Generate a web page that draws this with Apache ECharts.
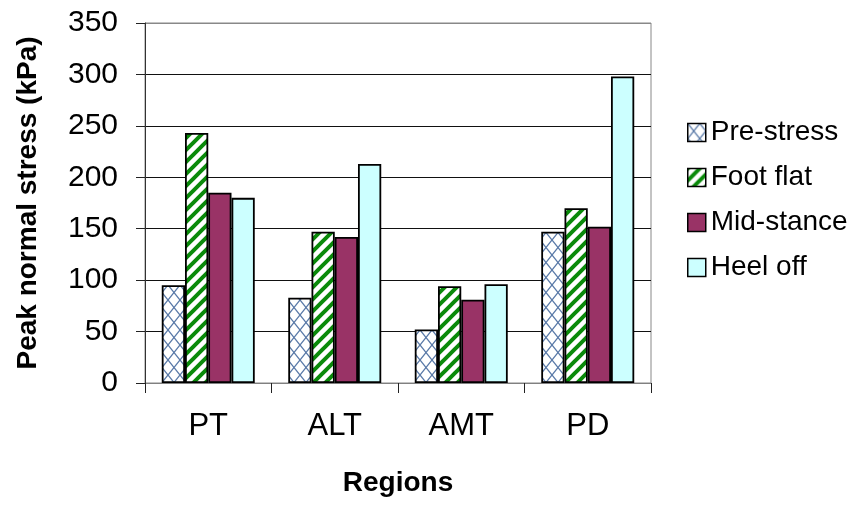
<!DOCTYPE html>
<html>
<head>
<meta charset="utf-8">
<script src="https://cdn.jsdelivr.net/npm/echarts@6/dist/echarts.min.js"></script>
<style>html,body{margin:0;padding:0;background:#fff}#c{width:858px;height:509px}</style>
</head>
<body>
<div id="c"></div>
<script>
const categories = ['PT', 'ALT', 'AMT', 'PD'];
const seriesNames = ['Pre-stress', 'Foot flat', 'Mid-stance', 'Heel off'];
const preStress = [95, 83, 52, 147];
const footFlat = [243, 147, 94, 170];
const midStance = [185, 142, 81, 152];
const heelOff = [180, 213, 96, 298];
const yTicks = { min: 0, max: 350, interval: 50 };

const FONT = '"Liberation Sans", Arial, sans-serif';

function crossPattern() {
  const c = document.createElement('canvas');
  c.width = 12; c.height = 15;
  const g = c.getContext('2d');
  g.fillStyle = '#ffffff'; g.fillRect(0, 0, 12, 15);
  g.strokeStyle = '#5a7aa8'; g.lineWidth = 1.3;
  g.beginPath();
  g.moveTo(0, 0); g.lineTo(12, 15);
  g.moveTo(12, 0); g.lineTo(0, 15);
  g.stroke();
  return { image: c, repeat: 'repeat' };
}
function stripePattern() {
  const s = 12;
  const c = document.createElement('canvas');
  c.width = s; c.height = s;
  const g = c.getContext('2d');
  g.fillStyle = '#ffffff'; g.fillRect(0, 0, s, s);
  g.strokeStyle = '#0a8a0a'; g.lineWidth = 4;
  g.beginPath();
  g.moveTo(-2, s + 2); g.lineTo(s + 2, -2);
  g.moveTo(-2, 2); g.lineTo(2, -2);
  g.moveTo(s - 2, s + 2); g.lineTo(s + 2, s - 2);
  g.stroke();
  return { image: c, repeat: 'repeat' };
}

const fills = [crossPattern(), stripePattern(), '#993366', '#ccffff'];
const values = [preStress, footFlat, midStance, heelOff];

const chart = echarts.init(document.getElementById('c'), null, { renderer: 'canvas' });
chart.setOption({
  animation: false,
  backgroundColor: '#ffffff',
  textStyle: { fontFamily: FONT, color: '#000' },
  grid: { left: 145, right: 207, top: 23, bottom: 126, show: true, borderColor: '#888888', borderWidth: 1, backgroundColor: 'transparent' },
  legend: {
    orient: 'vertical',
    left: 682, top: 112,
    icon: 'rect',
    itemWidth: 18, itemHeight: 18, itemGap: 14,
    textStyle: { fontFamily: FONT, fontSize: 28, color: '#000', lineHeight: 31, padding: [0, 0, 0, 0] },
    itemStyle: { borderColor: '#000', borderWidth: 1.5 },
    data: seriesNames
  },
  xAxis: {
    type: 'category',
    data: categories,
    name: 'Regions',
    nameLocation: 'middle',
    nameGap: 86,
    nameTextStyle: { fontFamily: FONT, fontSize: 28, fontWeight: 'bold', color: '#000' },
    axisLine: { show: true, lineStyle: { color: '#808080', width: 1 } },
    axisTick: { show: true, length: 10, lineStyle: { color: '#222', width: 1 } },
    axisLabel: { fontFamily: FONT, fontSize: 31, color: '#000', margin: 28 },
    splitLine: { show: false }
  },
  yAxis: {
    type: 'value',
    min: yTicks.min, max: yTicks.max, interval: yTicks.interval,
    name: 'Peak normal stress (kPa)',
    nameLocation: 'middle',
    nameRotate: 90,
    nameGap: 103,
    nameTextStyle: { fontFamily: FONT, fontSize: 28, fontWeight: 'bold', color: '#000' },
    axisLine: { show: true, lineStyle: { color: '#333', width: 1 } },
    axisTick: { show: true, length: 9, lineStyle: { color: '#222', width: 1 } },
    axisLabel: { fontFamily: FONT, fontSize: 30, color: '#000', margin: 27 },
    splitLine: { show: true, lineStyle: { color: ['#808080', '#111', '#111', '#111', '#111', '#111', '#111', '#888888'], width: 1 } }
  },
  series: seriesNames.map((n, i) => ({
    name: n,
    type: 'bar',
    data: values[i],
    barGap: '0%',
    barCategoryGap: '26.5%',
    itemStyle: { color: fills[i], borderColor: '#000', borderWidth: 1.8 }
  }))
});
</script>
</body>
</html>
